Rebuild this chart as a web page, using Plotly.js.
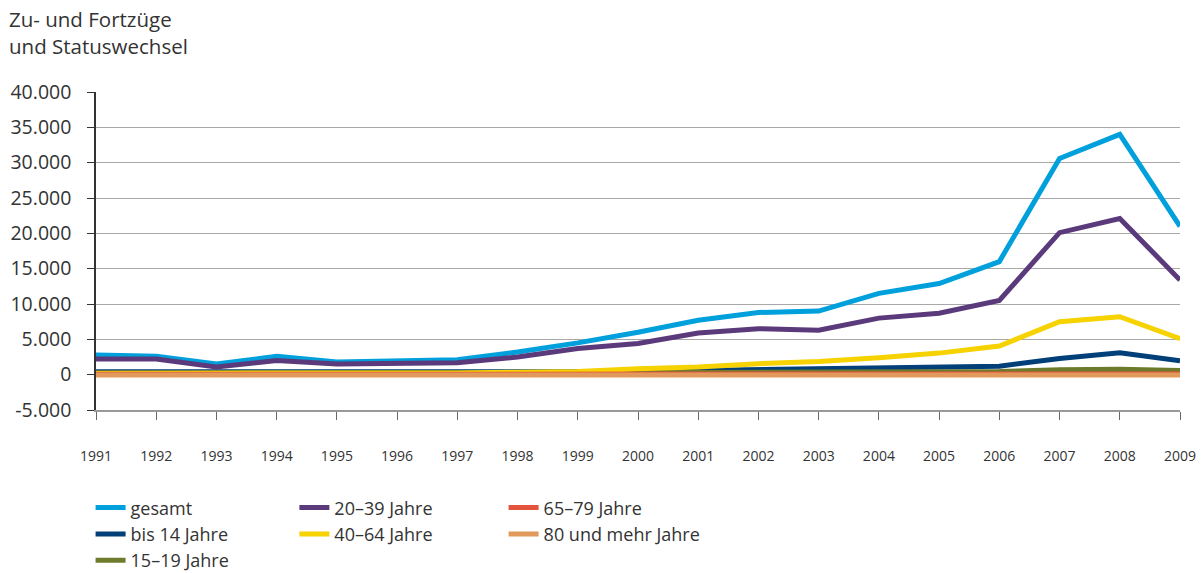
<!DOCTYPE html>
<html>
<head>
<meta charset="utf-8">
<script src="https://cdn.plot.ly/plotly-3.0.1.min.js"></script>
<style>
  body { margin: 0; background: #fff; }
  #chart { width: 1201px; height: 573px; }
</style>
</head>
<body>
<div id="chart"></div>
<script>
var years = [1991, 1992, 1993, 1994, 1995, 1996, 1997, 1998, 1999, 2000,
             2001, 2002, 2003, 2004, 2005, 2006, 2007, 2008, 2009];

var gesamt   = [2800, 2600, 1500, 2600, 1800, 1900, 2100, 3200, 4500, 6000,
                7700, 8800, 9000, 11500, 12900, 16000, 30600, 34000, 21000];
var bis14    = [400, 400, 300, 400, 300, 300, 300, 400, 400, 500,
                600, 800, 800, 950, 1000, 1200, 2300, 3100, 1950];
var j15_19   = [200, 200, 150, 200, 150, 150, 150, 200, 200, 250,
                300, 350, 350, 400, 400, 450, 700, 750, 600];
var j20_39   = [2200, 2200, 1100, 2000, 1500, 1600, 1700, 2500, 3700, 4400,
                5900, 6500, 6300, 8000, 8700, 10500, 20100, 22100, 13400];
var j40_64   = [200, 200, 150, 200, 200, 200, 250, 350, 450, 850,
                1100, 1550, 1850, 2400, 3050, 4050, 7500, 8200, 5100];
var j65_79   = [50, 50, 30, 50, 40, 40, 40, 50, 50, 60,
                60, 70, 70, 80, 80, 90, 120, 130, 110];
var j80plus  = [-50, -50, -40, -50, -40, -40, -40, -40, -50, -50,
                -50, -50, -50, -50, -50, -50, -60, -60, -60];

var yTicks = [-5000, 0, 5000, 10000, 15000, 20000, 25000, 30000, 35000, 40000];
var yTickText = ['-5.000', '0', '5.000', '10.000', '15.000', '20.000',
                 '25.000', '30.000', '35.000', '40.000'];

function line(name, y, color, legend) {
  return {
    x: years, y: y, name: name, type: 'scatter', mode: 'lines',
    line: {color: color, width: 5},
    legend: legend
  };
}

var data = [
  line('gesamt', gesamt, '#00a0dc', 'legend'),
  line('bis 14 Jahre', bis14, '#003f78', 'legend'),
  line('15\u201319 Jahre', j15_19, '#6f7b2c', 'legend'),
  line('20\u201339 Jahre', j20_39, '#5b3a7c', 'legend2'),
  line('40\u201364 Jahre', j40_64, '#f5d200', 'legend2'),
  line('65\u201379 Jahre', j65_79, '#e4533c', 'legend3'),
  line('80 und mehr Jahre', j80plus, '#e2995c', 'legend3')
];

// legends sit in the container so they don't push the plot margins
var legendBase = {
  orientation: 'v',
  yref: 'container',
  yanchor: 'top',
  y: 0.146,
  xanchor: 'left',
  bgcolor: 'rgba(0,0,0,0)',
  itemwidth: 30,
  tracegroupgap: 0,
  font: {family: 'Open Sans, sans-serif', size: 18, color: '#333'}
};

var layout = {
  width: 1201,
  height: 573,
  margin: {l: 96, r: 21, t: 92, b: 163},
  paper_bgcolor: '#fff',
  plot_bgcolor: '#fff',
  font: {family: 'Open Sans, sans-serif', color: '#333'},
  showlegend: true,
  legend: Object.assign({}, legendBase, {x: -0.005}),
  legend2: Object.assign({}, legendBase, {x: 0.183}),
  legend3: Object.assign({}, legendBase, {x: 0.376}),
  annotations: [{
    text: 'Zu- und Fortzüge<br>und Statuswechsel',
    xref: 'paper', yref: 'paper', x: -0.082, y: 1.279,
    xanchor: 'left', yanchor: 'top', align: 'left', showarrow: false,
    font: {family: 'Open Sans, sans-serif', size: 20.5, color: '#333'}
  }],
  xaxis: {
    range: [1991, 2009],
    tickmode: 'array',
    tickvals: years,
    ticks: 'outside',
    ticklen: 8,
    tickcolor: '#666',
    ticklabelstandoff: 24,
    showgrid: false,
    zeroline: false,
    showline: true,
    linecolor: '#999',
    linewidth: 1.5,
    tickfont: {family: 'Open Sans, sans-serif', size: 14, color: '#333'}
  },
  yaxis: {
    range: [-5000, 40000],
    tickmode: 'array',
    tickvals: yTicks,
    ticktext: yTickText,
    ticks: 'outside',
    ticklen: 7,
    tickcolor: '#333',
    ticklabelstandoff: 12,
    showgrid: true,
    gridcolor: '#a8a8a8',
    gridwidth: 1,
    zeroline: false,
    showline: true,
    linecolor: '#333',
    linewidth: 1.5,
    tickfont: {family: 'Open Sans, sans-serif', size: 19.5, color: '#333'}
  }
};

var config = {displayModeBar: false, responsive: false};

Plotly.newPlot('chart', data, layout, config);
</script>
</body>
</html>
